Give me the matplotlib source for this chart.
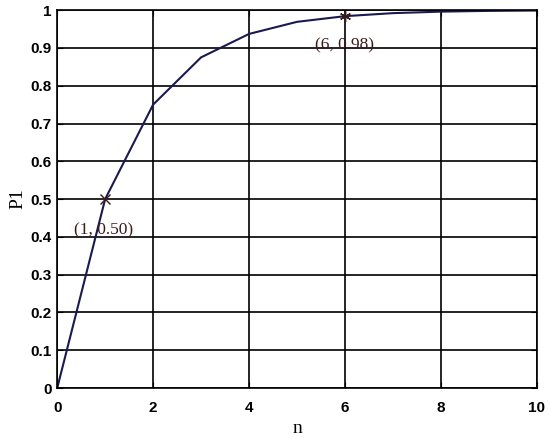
import matplotlib.pyplot as plt

n_values = [0, 1, 2, 3, 4, 5, 6, 7, 8, 9, 10]
p1_values = [0, 0.5, 0.75, 0.875, 0.937, 0.969, 0.984, 0.992, 0.996, 0.998, 0.999]
x_ticks = [0, 2, 4, 6, 8, 10]
y_ticks = [0, 0.1, 0.2, 0.3, 0.4, 0.5, 0.6, 0.7, 0.8, 0.9, 1]
y_tick_labels = ['0', '0.1', '0.2', '0.3', '0.4', '0.5', '0.6', '0.7', '0.8', '0.9', '1']

fig = plt.figure(figsize=(5.5, 4.4), dpi=100)
ax = fig.add_axes([0.104, 0.118, 0.872, 0.859])

ax.plot(n_values, p1_values, color='#1a1a4e', linewidth=1.5)
# marked points
ax.plot(n_values[1], p1_values[1], marker='x', color='#3a1a1a', markersize=7, mew=1)
ax.plot(n_values[6], p1_values[6], marker=(6, 2, 0), color='#3a1a1a', markersize=8, mew=1)

serif = ['Liberation Serif', 'DejaVu Serif']
ax.text(0.35, 0.418, '(1, 0.50)', family=serif, fontsize=12.5, color='#3d1a1a', va='center')
ax.text(5.38, 0.907, '(6, 0.98)', family=serif, fontsize=12.5, color='#3d1a1a', va='center')

ax.set_xlim(0, 10)
ax.set_ylim(0, 1)
ax.set_xticks(x_ticks)
ax.set_yticks(y_ticks)
ax.set_yticklabels(y_tick_labels)
ax.grid(True, color='black', linestyle='-', linewidth=1.2)
ax.tick_params(direction='in', right=True, top=True, length=4, labelsize=11)
ax.tick_params(axis='x', pad=9)
ax.tick_params(axis='y', pad=4)
for lbl in ax.get_xticklabels() + ax.get_yticklabels():
    lbl.set_family(['Liberation Sans', 'DejaVu Sans'])
    lbl.set_fontweight('bold')
for s in ax.spines.values():
    s.set_linewidth(1.2)

ax.set_xlabel('n', family=serif, fontsize=14, labelpad=4)
ax.set_ylabel('P1', family=serif, fontsize=14, labelpad=3)

fig.savefig('out.png')
